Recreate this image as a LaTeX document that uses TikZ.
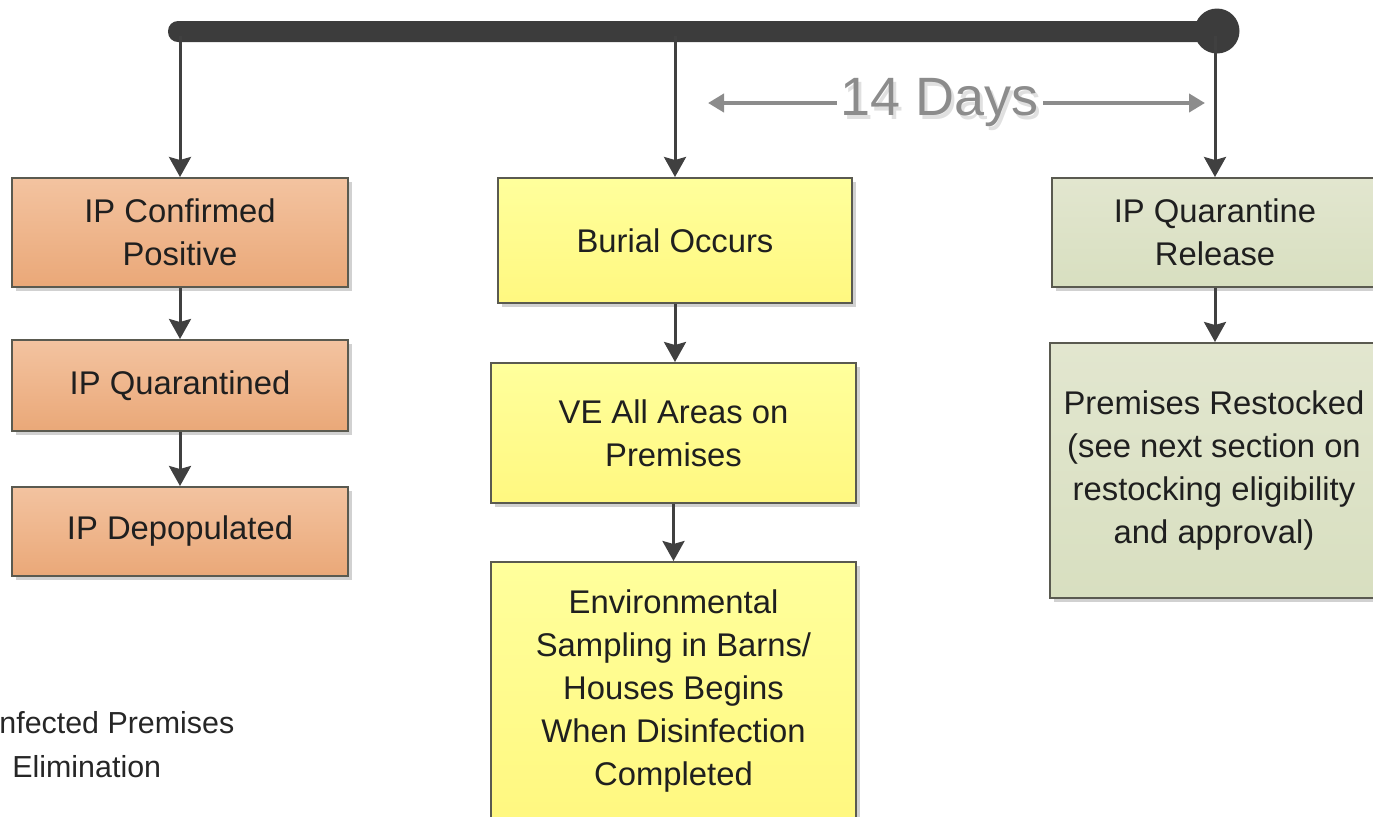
\documentclass[tikz,border=0pt]{standalone}
\usepackage{fontspec}
\setmainfont{Liberation Sans}
\usetikzlibrary{arrows.meta,shadows}

\definecolor{barcol}{HTML}{3C3C3C}
\definecolor{linecol}{HTML}{404040}
\definecolor{edgecol}{HTML}{5A5A50}
\definecolor{oraTop}{HTML}{F3C3A0}
\definecolor{oraBot}{HTML}{EAA878}
\definecolor{yelTop}{HTML}{FFFF9C}
\definecolor{yelBot}{HTML}{FFF880}
\definecolor{grnTop}{HTML}{E2E6CF}
\definecolor{grnBot}{HTML}{D8DFC0}
\definecolor{daygray}{HTML}{8C8C8C}

\tikzset{
  stagebox/.style={draw=edgecol, line width=1pt, align=center, inner sep=0pt,
    font=\fontsize{16.4}{21.6}\selectfont, text=black!88,
    drop shadow={shadow xshift=2pt, shadow yshift=-2pt, fill=black, opacity=0.18}},
  orangebox/.style={stagebox, top color=oraTop, bottom color=oraBot},
  yellowbox/.style={stagebox, top color=yelTop, bottom color=yelBot},
  greenbox/.style={stagebox, top color=grnTop, bottom color=grnBot},
  flow/.style={draw=linecol, line width=1.5pt,
    -{Stealth[length=10pt, width=11pt, inset=1.5pt]}},
  span/.style={draw=daygray, line width=2pt,
    -{Triangle[length=8pt, width=9pt]}},
  note/.style={font=\fontsize{15.2}{22}\selectfont, text=black!85, inner sep=0pt}
}

\begin{document}
\begin{tikzpicture}[x=0.5pt, y=-0.5pt]
  \useasboundingbox (0,0) rectangle (1373,816);
  \clip (0,0) rectangle (1373,816);

  % timeline bar with end marker
  \fill[barcol, rounded corners=5pt] (168,21) rectangle (1216,42);
  \node[circle, fill=barcol, minimum size=22.5pt, inner sep=0pt] (endmark) at (1217,31) {};
  \coordinate (tA) at (180,36);
  \coordinate (tB) at (675,36);
  \coordinate (tC) at (1215,36);

  % left column
  \node[orangebox, minimum width=168pt, minimum height=54.5pt] (conf) at (180,232.5)
    {IP Confirmed\\Positive};
  \node[orangebox, minimum width=168pt, minimum height=45.5pt] (quar) at (180,385.5)
    {IP Quarantined};
  \node[orangebox, minimum width=168pt, minimum height=44.5pt] (depop) at (180,531.5)
    {IP Depopulated};

  % middle column
  \node[yellowbox, minimum width=177pt, minimum height=62.5pt] (burial) at (675,240.5)
    {Burial Occurs};
  \node[yellowbox, minimum width=182.5pt, minimum height=70pt] (ve) at (673.5,433)
    {VE All Areas on\\Premises};
  \node[yellowbox, minimum width=182.5pt, minimum height=129pt] (env) at (673.5,691)
    {Environmental\\Sampling in Barns/\\Houses Begins\\When Disinfection\\Completed};

  % right column
  \node[greenbox, minimum width=163pt, minimum height=54.5pt] (release) at (1215,232.5)
    {IP Quarantine\\Release};
  \node[greenbox, minimum width=164pt, minimum height=127.5pt] (restock) at (1214,470.5)
    {Premises Restocked\\(see next section on\\restocking eligibility\\and approval)};

  % drops from the timeline
  \draw[flow] (tA) -- (conf.north);
  \draw[flow] (tB) -- (burial.north);
  \draw[flow] (tC) -- (release.north);

  % steps within each column
  \draw[flow] (conf.south) -- (quar.north);
  \draw[flow] (quar.south) -- (depop.north);
  \draw[flow] (burial.south) -- (burial.south |- ve.north);
  \draw[flow] (ve.south) -- (env.north);
  \draw[flow] (release.south) -- (release.south |- restock.north);

  % 14-day interval, label with a soft shadow
  \node[font=\fontsize{27}{30}\selectfont, text=black!12, inner sep=2pt] at (943,107) {14 Days};
  \node[font=\fontsize{27}{30}\selectfont, text=daygray, inner sep=2pt] (days) at (940,103) {14 Days};
  \draw[span] (days.west) -- (708,103) coordinate (spanL);
  \draw[span] (days.east) -- (1205,103) coordinate (spanR);

  % legend text
  \node[note, anchor=base west] (leg1) at (-1,733) {nfected Premises};
  \node[note, anchor=base west] (leg2) at (12,777) {Elimination};
\end{tikzpicture}
\end{document}
